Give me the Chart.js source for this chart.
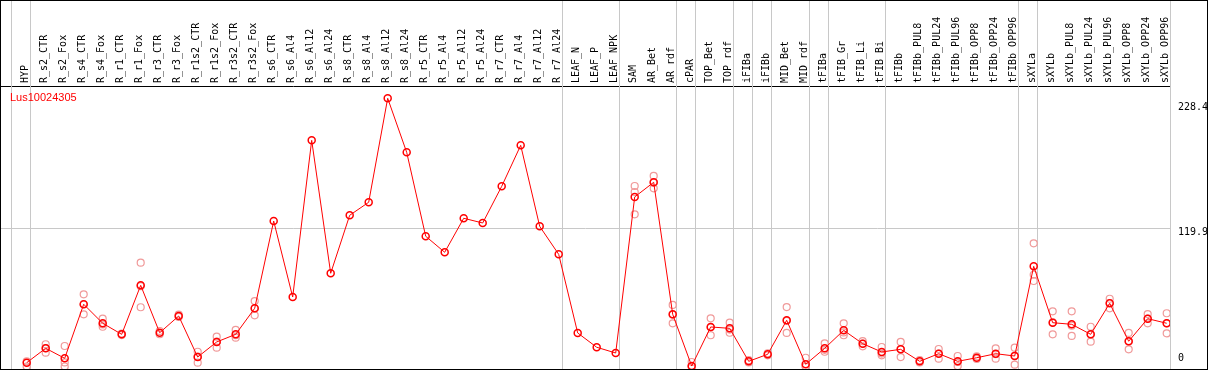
<!DOCTYPE html>
<html>
<head>
<meta charset="utf-8">
<script src="https://cdn.jsdelivr.net/npm/chart.js@4.4.1/dist/chart.umd.min.js"></script>
<style>
  body { margin: 0; background: #fff; }
  canvas { display: block; }
</style>
</head>
<body>
<canvas id="exprChart" width="1209" height="370"></canvas>
<script>
// samples (columns) and expression values for Lus10024305
const geneId = 'Lus10024305';
const samples = ['HYP', 'R_s2_CTR', 'R_s2_Fox', 'R_s4_CTR', 'R_s4_Fox', 'R_r1_CTR', 'R_r1_Fox', 'R_r3_CTR', 'R_r3_Fox',
    'R_r1s2_CTR', 'R_r1s2_Fox', 'R_r3s2_CTR', 'R_r3s2_Fox', 'R_s6_CTR', 'R_s6_Al4', 'R_s6_Al12', 'R_s6_Al24',
    'R_s8_CTR', 'R_s8_Al4', 'R_s8_Al12', 'R_s8_Al24', 'R_r5_CTR', 'R_r5_Al4', 'R_r5_Al12', 'R_r5_Al24',
    'R_r7_CTR', 'R_r7_Al4', 'R_r7_Al12', 'R_r7_Al24', 'LEAF_N', 'LEAF_P', 'LEAF_NPK', 'SAM', 'AR_Bet', 'AR_rdf',
    'cPAR', 'TOP_Bet', 'TOP_rdf', 'iFIBa', 'iFIBb', 'MID_Bet', 'MID_rdf', 'tFIBa', 'tFIB_Gr', 'tFIB_Li', 'tFIB_Bi',
    'tFIBb', 'tFIBb_PUL8', 'tFIBb_PUL24', 'tFIBb_PUL96', 'tFIBb_OPP8', 'tFIBb_OPP24', 'tFIBb_OPP96',
    'sXYLa', 'sXYLb', 'sXYLb_PUL8', 'sXYLb_PUL24', 'sXYLb_PUL96', 'sXYLb_OPP8', 'sXYLb_OPP24', 'sXYLb_OPP96'];

const meanExpr = [3.3, 15.8, 7.1, 54.0, 37.5, 27.9, 70.4, 29.3, 43.8,
    8.2, 21.3, 27.9, 50.5, 126.2, 60.3, 196.2, 80.9,
    131.2, 142.5, 232.7, 185.8, 113.0, 99.1, 128.6, 124.5,
    156.3, 191.9, 121.6, 97.3, 29.1, 16.7, 11.7, 147.1, 159.8, 45.3,
    0.4, 34.3, 33.1, 4.5, 10.6, 40.1, 1.9, 15.8, 31.4, 19.8, 12.6,
    14.9, 4.5, 11.1, 4.5, 7.6, 11.1, 9.1,
    86.9, 38.0, 36.6, 27.9, 54.8, 21.9, 41.5, 37.5];

// individual replicates (null = not shown)
const rep1 = [0, 19.3, 17.8, 62.6, 41.5, 28.5, 90.1, 30.8, 45.0,
    12.8, 25.9, 31.7, 56.8, null, null, null, null,
    null, null, null, null, null, null, null, null,
    null, null, null, null, null, null, null, 156.6, 165.3, 53.4,
    3.9, 41.8, 38.0, 5.5, 11.5, 51.6, 7.6, 20.1, 37.5, 22.0, 16.9,
    21.3, 5.5, 15.2, 9.1, 8.7, 15.8, 16.3,
    106.9, 47.9, 47.9, 34.5, 58.8, 29.1, 45.5, 46.2];
const rep2 = [4.5, 12.0, 0, 45.3, 34.5, 27.3, 51.4, 28.0, 43.0,
    3.3, 16.3, 25.0, 44.4, null, null, null, null,
    null, null, null, null, null, null, null, null,
    null, null, null, null, null, null, null, 151.4, 154.6, 37.5,
    0, 27.1, 29.3, 3.5, 9.7, 29.1, 0, 12.8, 27.1, 17.5, 9.7,
    8.2, 3.5, 6.8, 0.4, 6.5, 6.8, 1.6,
    74.2, 27.9, 26.5, 21.5, 50.5, 14.9, 37.5, 28.8];
const rep3 = [null, 16.0, 3.5, 54.0, 36.5, null, 69.7, null, null,
    8.5, 21.6, 27.1, 50.3, null, null, null, null,
    null, null, null, null, null, null, null, null,
    null, null, null, null, null, null, null, 132.0, 159.5, 45.0,
    0, 34.0, 32.0, null, null, 39.6, 0, 14.5, 29.6, 19.9, 11.2,
    15.2, null, 11.3, 4.0, null, 10.7, 9.4,
    79.6, 38.2, 35.4, 27.7, 55.1, 21.7, 41.5, 37.5];

const yTicks = [0, 119.9, 228.4];
// last column of each sample group (a separator line follows it)
const groupEnds = [-1, 0, 28, 31, 34, 35, 37, 38, 39, 41, 42, 45, 52, 53, 60];

const toPoints = arr => arr.map((v, i) => ({ x: i, y: v })).filter(p => p.y !== null);

// no extra room for half labels at the ends of the axes
const noEdgePadding = scale => {
    scale.paddingLeft = 0;
    scale.paddingRight = 0;
    scale.paddingTop = 0;
    scale.paddingBottom = 0;
};

const frameAndGroups = {
    id: 'frameAndGroups',
    beforeDatasetsDraw(chart) {
        const { ctx, chartArea, scales } = chart;
        ctx.save();
        ctx.strokeStyle = '#c8c8c8';
        ctx.lineWidth = 1;
        groupEnds.forEach(g => {
            const x = Math.round(scales.x.getPixelForValue(g + 0.2)) + 0.5;
            ctx.beginPath();
            ctx.moveTo(x, 0);
            ctx.lineTo(x, chartArea.bottom);
            ctx.stroke();
        });
        ctx.restore();
    },
    afterDraw(chart) {
        const { ctx, chartArea } = chart;
        ctx.save();
        ctx.strokeStyle = '#000';
        ctx.lineWidth = 1;
        ctx.strokeRect(0.5, 0.5, chart.width - 2, chartArea.bottom);
        ctx.fillStyle = '#ff0000';
        ctx.font = '11px "Liberation Sans", Arial, sans-serif';
        ctx.textBaseline = 'alphabetic';
        ctx.fillText(geneId, chartArea.left + 9, chartArea.top + 15);
        ctx.restore();
    }
};

const ctx = document.getElementById('exprChart').getContext('2d');
const exprChart = new Chart(ctx, {
    type: 'line',
    data: {
        datasets: [{
            label: geneId,
            data: toPoints(meanExpr),
            borderColor: '#ff0000',
            borderWidth: 1,
            pointStyle: 'circle',
            pointRadius: 3.5,
            pointBorderWidth: 1.5,
            pointBorderColor: '#ff0000',
            pointBackgroundColor: 'rgba(0,0,0,0)',
            order: 0
        }, {
            label: 'rep1',
            data: toPoints(rep1),
            showLine: false,
            pointRadius: 3.5,
            pointBorderWidth: 1.2,
            pointBorderColor: '#f09a9a',
            pointBackgroundColor: 'rgba(0,0,0,0)',
            order: 1
        }, {
            label: 'rep2',
            data: toPoints(rep2),
            showLine: false,
            pointRadius: 3.5,
            pointBorderWidth: 1.2,
            pointBorderColor: '#f09a9a',
            pointBackgroundColor: 'rgba(0,0,0,0)',
            order: 1
        }, {
            label: 'rep3',
            data: toPoints(rep3),
            showLine: false,
            pointRadius: 3.5,
            pointBorderWidth: 1.2,
            pointBorderColor: '#f09a9a',
            pointBackgroundColor: 'rgba(0,0,0,0)',
            order: 1
        }]
    },
    options: {
        responsive: false,
        animation: false,
        layout: { autoPadding: false, padding: { left: 1, right: 2, top: 0, bottom: 1 } },
        plugins: {
            legend: { display: false },
            tooltip: { enabled: false }
        },
        scales: {
            x: {
                type: 'linear',
                position: 'top',
                min: -1.3526,
                max: 60.1737,
                afterBuildTicks: scale => {
                    scale.ticks = samples.map((s, i) => ({ value: i }));
                },
                afterFit: scale => {
                    scale.height = 86;
                    noEdgePadding(scale);
                },
                grid: { display: false, drawTicks: false },
                border: { display: true, color: '#000', width: 1 },
                ticks: {
                    autoSkip: false,
                    minRotation: 90,
                    maxRotation: 90,
                    padding: 3,
                    labelOffset: 11,
                    color: '#000',
                    font: { family: '"DejaVu Sans Mono", monospace', size: 10 },
                    callback: (v, i) => samples[i]
                }
            },
            y: {
                type: 'linear',
                position: 'right',
                min: -2.169,
                max: 243.36,
                afterBuildTicks: scale => {
                    scale.ticks = yTicks.map(v => ({ value: v }));
                },
                afterFit: scale => {
                    scale.width = 37;
                    noEdgePadding(scale);
                },
                grid: {
                    drawTicks: false,
                    color: c => (c.tick && c.tick.value === 119.9) ? '#c8c8c8' : 'rgba(0,0,0,0)'
                },
                border: { display: false },
                ticks: {
                    padding: 8,
                    labelOffset: 4,
                    color: '#000',
                    font: { family: '"DejaVu Sans Mono", monospace', size: 10 },
                    // the bottom label sits above the frame line, as in the original
                    callback: v => v === 0 ? ['0', '', ''] : String(v)
                }
            }
        }
    },
    plugins: [frameAndGroups]
});
</script>
</body>
</html>
